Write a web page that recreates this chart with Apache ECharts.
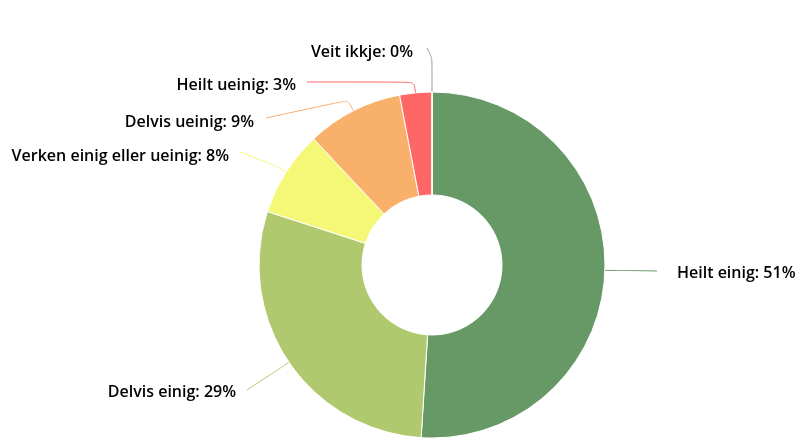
<!DOCTYPE html>
<html>
<head>
<meta charset="utf-8">
<script src="https://cdn.jsdelivr.net/npm/echarts@6/dist/echarts.min.js"></script>
<style>
  html, body { margin: 0; padding: 0; background: #fff; }
  #chart { width: 799px; height: 438px; }
</style>
</head>
<body>
<div id="chart"></div>
<script>
// svar-kategoriar og prosentdelar
const categories = ['Heilt einig', 'Delvis einig', 'Verken einig eller ueinig', 'Delvis ueinig', 'Heilt ueinig', 'Veit ikkje'];
const values = [51, 29, 8, 9, 3, 0];
const colors = ['#669966', '#b0c96f', '#f5f777', '#f9b06b', '#ff6666', '#999999'];

// plassering av etikettane (tekstkant x, midt y, ende på linja x, y)
const labelSpots = [
  { x: 677, y: 273, align: 'left',  lx: 657, ly: 271 },
  { x: 236, y: 392, align: 'right', lx: 247, ly: 390 },
  { x: 229, y: 156, align: 'right', lx: 240, ly: 152 },
  { x: 254, y: 122, align: 'right', lx: 266, ly: 118 },
  { x: 296, y: 85,  align: 'right', lx: 307, ly: 82 },
  { x: 413, y: 52,  align: 'right', lx: 427, ly: 48 }
];

const chart = echarts.init(document.getElementById('chart'));

const option = {
  animation: false,
  series: [
    {
      type: 'pie',
      center: [432, 265],
      radius: [70, 173],
      startAngle: 90,
      clockwise: true,
      itemStyle: {
        borderColor: '#fff',
        borderWidth: 1
      },
      label: {
        show: true,
        formatter: '{b}: {c}%',
        color: '#000',
        fontFamily: 'Open Sans',
        fontWeight: 600,
        fontSize: 16
      },
      labelLine: {
        show: true,
        length: 12,
        length2: 20,
        smooth: 0.25,
        lineStyle: { width: 1 }
      },
      labelLayout: function (params) {
        const s = labelSpots[params.dataIndex];
        const pts = params.labelLinePoints;
        const start = pts[0];
        let bend = pts[1];
        if (params.dataIndex === 0) bend = [start[0] + 20, start[1]];
        if (params.dataIndex === 5) bend = [start[0], s.ly + 10];
        if (params.dataIndex === 4) bend = [start[0] - 2, s.ly];
        return {
          x: s.x,
          y: s.y,
          align: s.align,
          verticalAlign: 'middle',
          labelLinePoints: [start, bend, [s.lx, s.ly]]
        };
      },
      data: categories.map((name, i) => ({
        name: name,
        value: values[i],
        itemStyle: { color: colors[i] }
      }))
    }
  ]
};
chart.setOption(option);
</script>
</body>
</html>
